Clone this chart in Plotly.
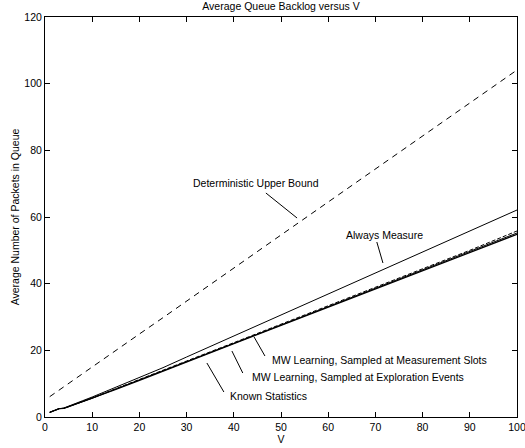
import plotly.graph_objects as go

V = [1, 2, 3, 4, 5, 6, 8, 10, 15, 20, 25, 30, 40, 50, 60, 70, 80, 90, 100]
upper_bound = [6.1, 7.1, 8.1, 9.1, 10.0, 11.0, 13.0, 15.0, 20.0, 24.9, 29.8, 34.8, 44.7, 54.6, 64.5, 74.4, 84.3, 94.2, 104.1]
always_measure = [1.4, 2.0, 2.5, 2.7, 3.2, 3.8, 4.9, 6.0, 8.9, 11.8, 14.8, 18.0, 24.3, 30.6, 36.9, 43.2, 49.5, 55.8, 62.1]
mw_measure = [1.4, 2.0, 2.5, 2.6, 3.1, 3.6, 4.7, 5.7, 8.5, 11.2, 14.0, 16.8, 22.3, 27.8, 33.4, 38.9, 44.4, 50.0, 55.8]
mw_explore = [1.4, 2.0, 2.5, 2.6, 3.1, 3.6, 4.6, 5.6, 8.4, 11.1, 13.9, 16.7, 22.1, 27.6, 33.1, 38.6, 44.0, 49.6, 55.2]
known_stats = [1.4, 2.0, 2.5, 2.6, 3.1, 3.6, 4.6, 5.6, 8.3, 11.0, 13.8, 16.6, 22.0, 27.5, 33.0, 38.4, 43.8, 49.3, 54.8]

x_ticks = [0, 10, 20, 30, 40, 50, 60, 70, 80, 90, 100]
y_ticks = [0, 20, 40, 60, 80, 100, 120]

FONT = "Liberation Sans, Arial, Helvetica, sans-serif"

fig = go.Figure()
fig.add_trace(go.Scatter(x=V, y=upper_bound, mode="lines", line=dict(color="black", width=1, dash="6px,5px")))
fig.add_trace(go.Scatter(x=V, y=always_measure, mode="lines", line=dict(color="black", width=1)))
fig.add_trace(go.Scatter(x=V, y=mw_measure, mode="lines", line=dict(color="black", width=1, dash="4px,2px")))
fig.add_trace(go.Scatter(x=V, y=mw_explore, mode="lines", line=dict(color="black", width=1)))
fig.add_trace(go.Scatter(x=V, y=known_stats, mode="lines", line=dict(color="black", width=1.3)))

# annotation labels: (text, text_x, text_y, anchor, line start, line end)
labels = [
    ("Deterministic Upper Bound", 44.7, 70.2, "center", (46.8, 67.2), (53.4, 59.7)),
    ("Always Measure", 72.0, 54.6, "center", (70.3, 52.5), (71.6, 46.2)),
    ("MW Learning, Sampled at Measurement Slots", 47.7, 17.1, "left", (44.3, 24.0), (46.6, 18.3)),
    ("MW Learning, Sampled at Exploration Events", 43.4, 12.0, "left", (39.6, 19.8), (41.9, 13.2)),
    ("Known Statistics", 38.8, 6.3, "left", (34.3, 16.2), (37.9, 7.5)),
]
for text, tx, ty, anchor, p0, p1 in labels:
    fig.add_annotation(x=tx, y=ty, text=text, showarrow=False, xanchor=anchor, yanchor="middle",
                       font=dict(family=FONT, size=10.5, color="black"))
    fig.add_shape(type="line", x0=p0[0], y0=p0[1], x1=p1[0], y1=p1[1],
                  line=dict(color="black", width=1), xref="x", yref="y")

axis_common = dict(showgrid=False, zeroline=False, showline=True, linecolor="black", linewidth=1,
                   mirror="ticks", ticks="inside", ticklen=5, tickcolor="black", automargin=False,
                   ticklabeloverflow="allow",
                   tickfont=dict(family=FONT, size=10.5, color="black"))

fig.update_layout(
    width=525, height=448,
    margin=dict(l=45, r=8, t=17, b=31),
    paper_bgcolor="white", plot_bgcolor="white",
    showlegend=False,
    title=dict(text="Average Queue Backlog versus V", xref="paper", x=0.5, xanchor="center",
               y=0.993, yanchor="top",
               font=dict(family=FONT, size=10.5, color="black")),
    xaxis=dict(range=[0, 100], tickvals=x_ticks, ticktext=[str(t) for t in x_ticks],
               title=dict(text="V", font=dict(family=FONT, size=10.5, color="black"), standoff=0),
               **axis_common),
    yaxis=dict(range=[0, 120], tickvals=y_ticks, ticktext=[str(t) for t in y_ticks],
               title=dict(text="Average Number of Packets in Queue", font=dict(family=FONT, size=10.5, color="black"), standoff=2),
               **axis_common),
)

fig.write_html("out.html", config={"displayModeBar": False},
               post_script="document.body.style.margin='0';document.body.style.overflow='hidden';")
